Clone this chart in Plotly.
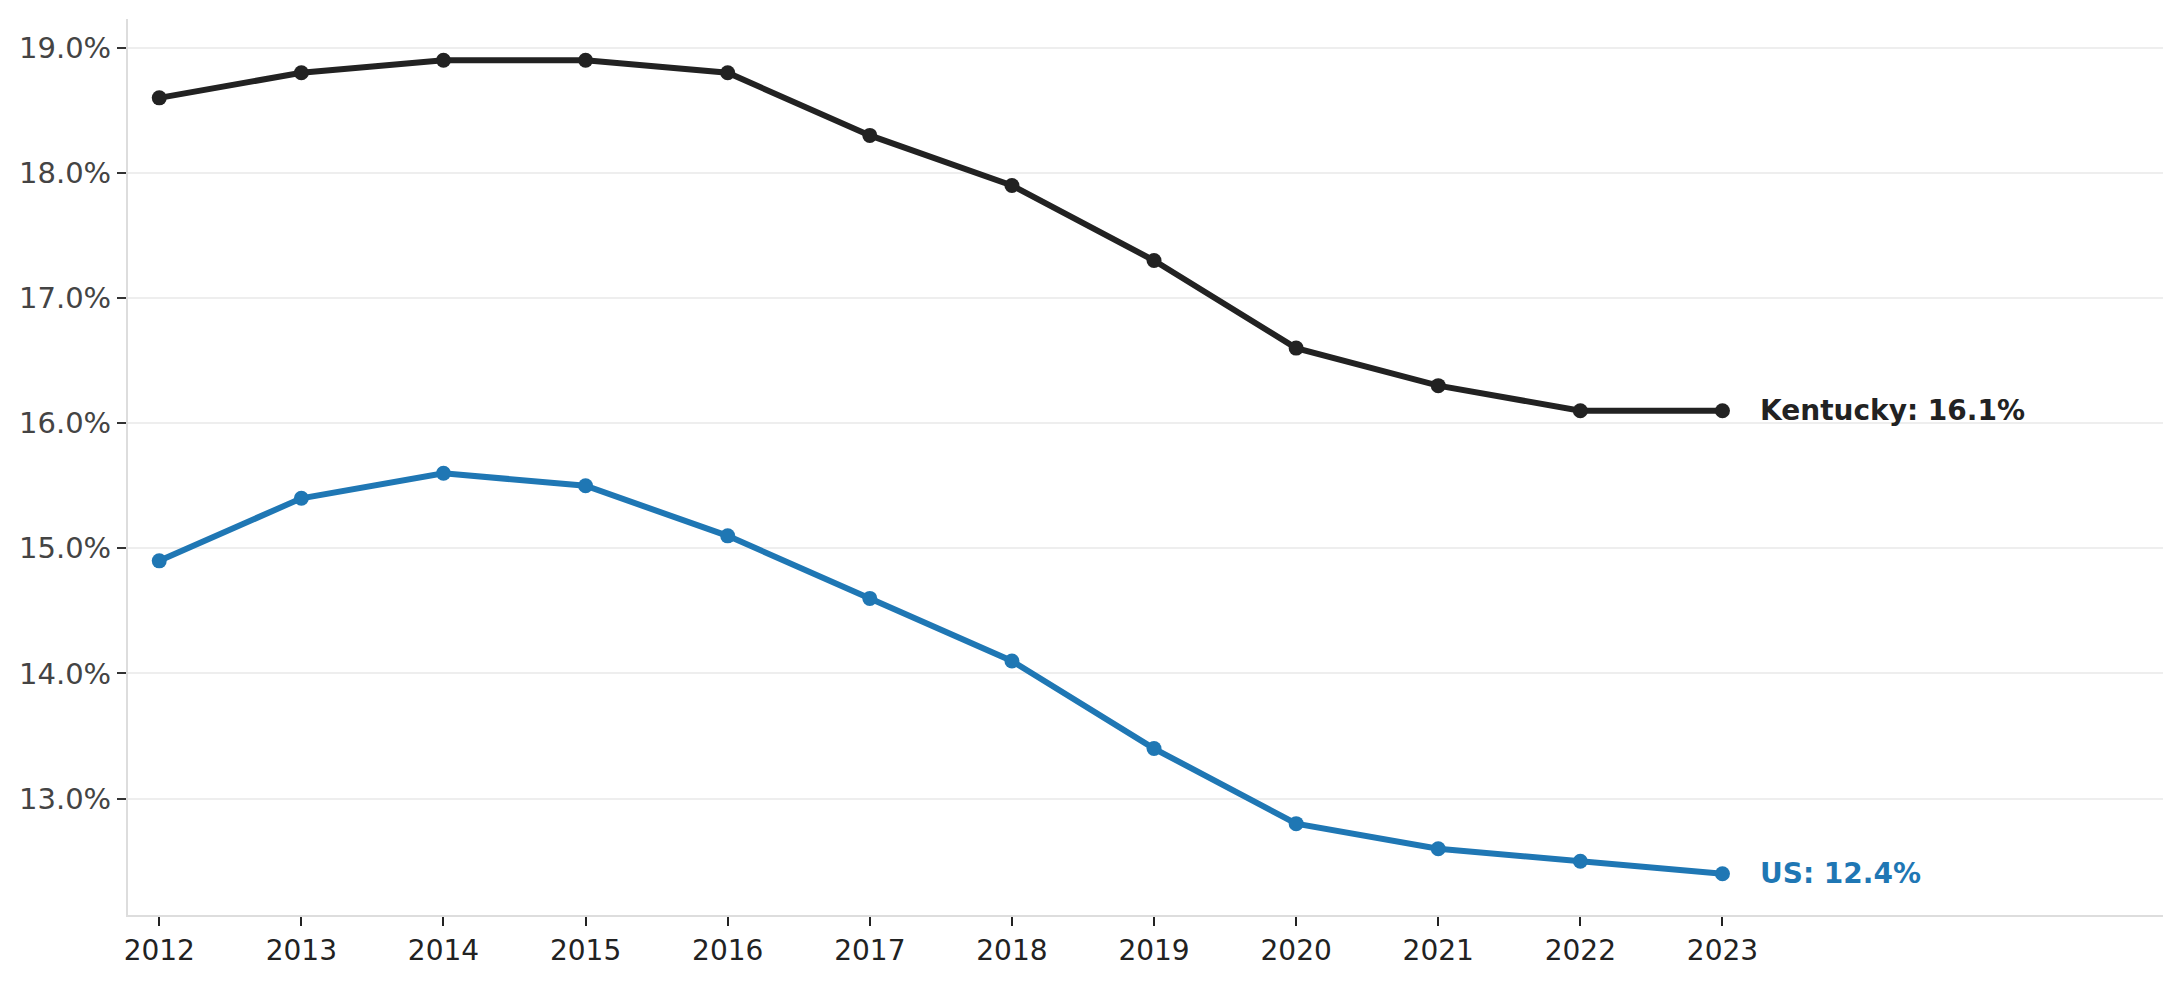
import plotly.graph_objects as go

years = list(range(2012, 2024))
kentucky = [18.6, 18.8, 18.9, 18.9, 18.8, 18.3, 17.9, 17.3, 16.6, 16.3, 16.1, 16.1]
us = [14.9, 15.4, 15.6, 15.5, 15.1, 14.6, 14.1, 13.4, 12.8, 12.6, 12.5, 12.4]
y_ticks = [13, 14, 15, 16, 17, 18, 19]

KY_COLOR = '#222222'
US_COLOR = '#1f77b4'
FONT = 'DejaVu Sans'

fig = go.Figure()
for name, vals, color in [('Kentucky', kentucky, KY_COLOR), ('US', us, US_COLOR)]:
    fig.add_trace(go.Scatter(x=years, y=vals, name=name, mode='lines+markers',
                             line=dict(color=color, width=6),
                             marker=dict(color=color, size=15)))
    # end-of-line label
    fig.add_annotation(x=years[-1] + 0.25, y=vals[-1], text=f'<b>{name}: {vals[-1]:.1f}%</b>',
                       showarrow=False, xanchor='left', yanchor='middle',
                       font=dict(family=FONT, size=28, color=color))

fig.update_layout(
    width=2180, height=981,
    margin=dict(l=120, r=25, t=11, b=74),
    paper_bgcolor='white', plot_bgcolor='white',
    showlegend=False,
    font=dict(family=FONT, size=28, color='#222222'),
)
fig.update_xaxes(range=[2011.78, 2026.1], tickvals=years, showgrid=False, zeroline=False,
                 showline=True, linecolor='#dddddd', linewidth=2,
                 ticks='outside', ticklen=9, tickwidth=2, tickcolor='#222222',
                 tickfont=dict(family=FONT, size=28, color='#222222'))
fig.update_yaxes(range=[12.07, 19.23], tickvals=y_ticks, ticktext=[f'{v:.1f}%' for v in y_ticks],
                 showgrid=True, gridcolor='#eeeeee', gridwidth=2, zeroline=False,
                 showline=True, linecolor='#dddddd', linewidth=2,
                 ticks='outside', ticklen=9, tickwidth=2, tickcolor='#333333',
                 tickfont=dict(family=FONT, size=29, color='#444444'))

fig.write_html("out.html")
